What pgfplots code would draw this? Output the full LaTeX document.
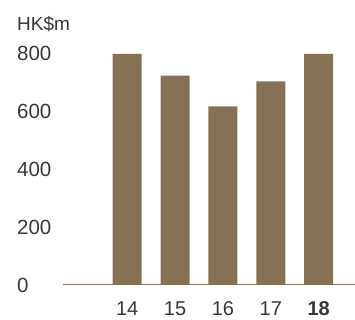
\documentclass[border=0pt]{standalone}
\usepackage{pgfplots}
\pgfplotsset{compat=1.18}
\usepackage{fontspec}
\setmainfont{Liberation Sans}
\definecolor{barc}{RGB}{135,113,84}
\definecolor{txt}{RGB}{55,55,55}
\definecolor{basel}{RGB}{140,122,100}
\begin{document}
\begin{tikzpicture}
\useasboundingbox (-63pt,-35pt) rectangle (292pt,285pt);
\begin{axis}[
  scale only axis,
  width=292pt, height=232pt,
  xmin=-1.34, xmax=4.76,
  ymin=0, ymax=800,
  clip=false,
  axis x line=bottom,
  axis y line=none,
  axis line style={basel, line width=1pt, -},
  xtick={0,1,2,3,4},
  xticklabels={14,15,16,17,\textbf{18}},
  xtick style={draw=none},
  xticklabel style={anchor=north, inner sep=0pt, yshift=-14pt, font=\fontsize{20}{24}\selectfont, text=txt},
  ytick={0,200,400,600,800},
  ytick style={draw=none},
  /pgf/number format/assume math mode=true,
  every tick label/.append style={text=txt},
]
\addplot[ybar, bar width=29pt, fill=barc, draw=none] coordinates {(0,797) (1,722) (2,616) (3,702) (4,797)};
\foreach \v in {0,200,400,600,800} {
  \edef\tmp{\noexpand\node[anchor=west, inner sep=0pt, text=txt, font=\noexpand\fontsize{20.5}{25}\noexpand\selectfont] at ([xshift=-46pt]axis cs:-1.34,\v) {\v};}
  \tmp
}
\node[anchor=west, inner sep=0pt, text=txt, font=\fontsize{19}{23}\selectfont] at ([xshift=-46pt]axis cs:-1.34,898) {HK\$m};
\end{axis}
\end{tikzpicture}
\end{document}
